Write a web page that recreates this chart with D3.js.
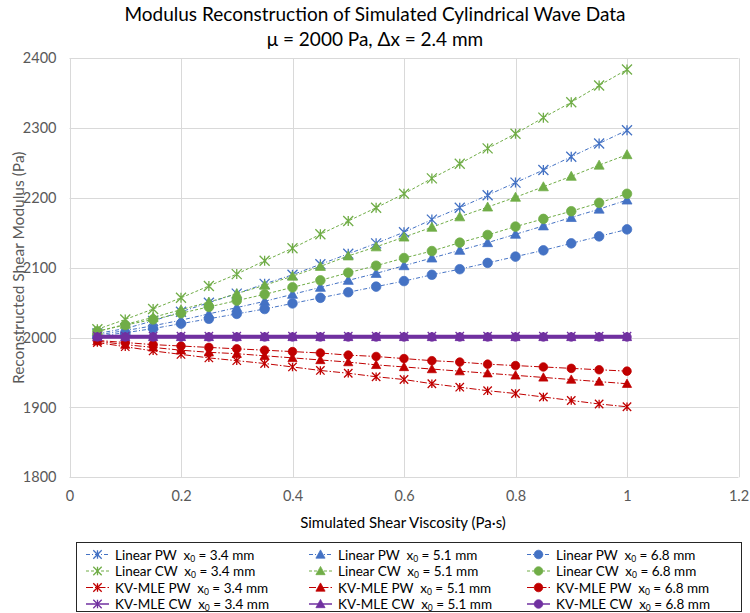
<!DOCTYPE html>
<html>
<head>
<meta charset="utf-8">
<script src="https://cdn.jsdelivr.net/npm/d3@7"></script>
<style>
  html, body { margin: 0; padding: 0; background: #fff; }
  svg { display: block; font-family: Lato, "Liberation Sans", sans-serif; }
</style>
</head>
<body>
<svg id="chart" width="750" height="613"></svg>
<script>
// ---------------- data ----------------
const viscosity = [0.05, 0.10, 0.15, 0.20, 0.25, 0.30, 0.35, 0.40, 0.45, 0.50,
                   0.55, 0.60, 0.65, 0.70, 0.75, 0.80, 0.85, 0.90, 0.95, 1.00];

const linearPW34 = [2006, 2013, 2024, 2037, 2050, 2063, 2077, 2090, 2105, 2120,
                    2135, 2151, 2169, 2186, 2204, 2222, 2240, 2259, 2278, 2297];
const linearPW51 = [2004, 2010, 2017, 2025, 2034, 2043, 2052, 2062, 2072, 2082,
                    2092, 2103, 2114, 2125, 2136, 2148, 2160, 2172, 2184, 2197];
const linearPW68 = [2002, 2007, 2013, 2020, 2027, 2034, 2041, 2049, 2057, 2065,
                    2073, 2081, 2090, 2098, 2107, 2116, 2125, 2135, 2145, 2155];
const linearCW34 = [2012, 2026, 2041, 2057, 2074, 2091, 2110, 2128, 2148, 2167,
                    2186, 2206, 2228, 2249, 2271, 2292, 2315, 2337, 2361, 2384];
const linearCW51 = [2009, 2019, 2029, 2040, 2051, 2063, 2075, 2088, 2102, 2117,
                    2130, 2144, 2158, 2173, 2187, 2201, 2216, 2231, 2247, 2262];
const linearCW68 = [2009, 2018, 2026, 2035, 2044, 2053, 2062, 2072, 2082, 2093,
                    2103, 2114, 2124, 2136, 2147, 2159, 2170, 2181, 2193, 2206];
const kvPW34 = [1993, 1987, 1981, 1976, 1971, 1967, 1963, 1958, 1953, 1949,
                1944, 1940, 1934, 1929, 1924, 1920, 1915, 1910, 1905, 1901];
const kvPW51 = [1995, 1990, 1986, 1982, 1979, 1977, 1974, 1971, 1968, 1965,
                1961, 1958, 1955, 1952, 1949, 1946, 1943, 1940, 1937, 1934];
const kvPW68 = [1996, 1993, 1990, 1988, 1986, 1984, 1982, 1980, 1978, 1975,
                1973, 1970, 1967, 1965, 1962, 1960, 1958, 1956, 1954, 1952];
const kvCW34 = [2002, 2002, 2002, 2002, 2002, 2002, 2002, 2002, 2002, 2002,
                2002, 2002, 2002, 2002, 2002, 2002, 2002, 2002, 2002, 2002];
const kvCW51 = [2001, 2001, 2001, 2001, 2001, 2001, 2001, 2001, 2001, 2001,
                2001, 2001, 2001, 2001, 2001, 2001, 2001, 2001, 2001, 2001];
const kvCW68 = [2001, 2001, 2001, 2001, 2001, 2001, 2001, 2001, 2001, 2001,
                2001, 2001, 2001, 2001, 2001, 2001, 2001, 2001, 2001, 2001];

const xTicks = [0, 0.2, 0.4, 0.6, 0.8, 1, 1.2];
const yTicks = [1800, 1900, 2000, 2100, 2200, 2300, 2400];
const methods = ["Linear PW", "Linear CW", "KV-MLE PW", "KV-MLE CW"];
const distances = ["3.4", "5.1", "6.8"];

const titleLine1 = "Modulus Reconstruction of Simulated Cylindrical Wave Data";
const titleLine2 = "\u03bc = 2000 Pa, \u0394x = 2.4 mm";
const xTitle = "Simulated Shear Viscosity (Pa\u00b7s)";
const yTitle = "Reconstructed Shear Modulus (Pa)";

// ---------------- styles ----------------
const methodStyle = {
  "Linear PW": { color: "#4472C4", dash: "4,2,1,2", width: 1, big: true },
  "Linear CW": { color: "#70AD47", dash: "3,2", width: 1, big: true },
  "KV-MLE PW": { color: "#C00000", dash: "7,2,1.5,2", width: 1, big: false },
  "KV-MLE CW": { color: "#7030A0", dash: null, width: 3, big: false }
};
const distMarker = { "3.4": "star", "5.1": "triangle", "6.8": "circle" };

const valueTable = {
  "Linear PW": [linearPW34, linearPW51, linearPW68],
  "Linear CW": [linearCW34, linearCW51, linearCW68],
  "KV-MLE PW": [kvPW34, kvPW51, kvPW68],
  "KV-MLE CW": [kvCW34, kvCW51, kvCW68]
};

// series in Excel order (row-major over legend)
const series = [];
methods.forEach(m => distances.forEach((d, i) => {
  series.push({ method: m, dist: d, values: valueTable[m][i],
                marker: distMarker[d], ...methodStyle[m] });
}));

// ---------------- layout ----------------
const svg = d3.select("#chart");
const x = d3.scaleLinear().domain([0, 1.2]).range([69.5, 738.5]);
const y = d3.scaleLinear().domain([1800, 2400]).range([477.3, 58.3]);

// gridlines
const grid = svg.append("g");
grid.selectAll("line.h").data(yTicks).join("line")
  .attr("x1", x(0)).attr("x2", x(1.2))
  .attr("y1", d => Math.round(y(d)) + 0.5).attr("y2", d => Math.round(y(d)) + 0.5)
  .attr("stroke", "#d9d9d9").attr("stroke-width", 1);
grid.selectAll("line.v").data(xTicks).join("line")
  .attr("y1", y(2400)).attr("y2", y(1800))
  .attr("x1", d => Math.round(x(d)) + 0.5).attr("x2", d => Math.round(x(d)) + 0.5)
  .attr("stroke", "#d9d9d9").attr("stroke-width", 1);

// axes (labels only)
const xAxis = d3.axisBottom(x).tickValues(xTicks).tickSize(0).tickPadding(0)
  .tickFormat(d => d3.format("~g")(d));
const gx = svg.append("g").attr("transform", `translate(0,${y(1800) + 12})`).call(xAxis);
gx.select(".domain").remove();
gx.selectAll("text").attr("font-size", 14.5).attr("fill", "#595959")
  .attr("font-family", "Lato, sans-serif").attr("dy", "0.8em");

const yAxis = d3.axisLeft(y).tickValues(yTicks).tickSize(0).tickPadding(0)
  .tickFormat(d3.format("d"));
const gy = svg.append("g").attr("transform", `translate(${x(0) - 13},0)`).call(yAxis);
gy.select(".domain").remove();
gy.selectAll("text").attr("font-size", 14.5).attr("fill", "#595959")
  .attr("font-family", "Lato, sans-serif");

// titles
svg.append("text").attr("x", 375).attr("y", 21).attr("text-anchor", "middle")
  .attr("font-size", 19).attr("fill", "#000").text(titleLine1);
svg.append("text").attr("x", 375).attr("y", 46).attr("text-anchor", "middle")
  .attr("font-size", 19).attr("fill", "#000").text(titleLine2);
svg.append("text").attr("x", 403).attr("y", 528).attr("text-anchor", "middle")
  .attr("font-size", 15).attr("fill", "#000").text(xTitle);
svg.append("text").attr("transform", `translate(24,${(y(2400) + y(1800)) / 2}) rotate(-90)`)
  .attr("text-anchor", "middle").attr("font-size", 15.5).attr("fill", "#595959").text(yTitle);

// marker drawing
function drawMarker(g, type, color, big) {
  if (type === "star") {
    const r = big ? 5 : 4.2;
    const p = `M${-r},${-r}L${r},${r}M${-r},${r}L${r},${-r}M0,${-r}L0,${r}`;
    g.append("path").attr("d", p).attr("stroke", color)
      .attr("stroke-width", 1.3).attr("fill", "none");
  } else if (type === "triangle") {
    const s = big ? 5 : 4.6;
    g.append("path").attr("d", `M0,${-s}L${s},${s * 0.8}L${-s},${s * 0.8}Z`)
      .attr("fill", color).attr("stroke", color).attr("stroke-width", 0.75);
  } else {
    g.append("circle").attr("r", big ? 4.8 : 4.3).attr("fill", color)
      .attr("stroke", color).attr("stroke-width", 0.75);
  }
}

// plot series
const line = d3.line().x(d => x(d[0])).y(d => y(d[1]));
const plot = svg.append("g");
series.forEach(s => {
  const pts = viscosity.map((v, i) => [v, s.values[i]]);
  const g = plot.append("g");
  g.append("path").datum(pts).attr("d", line).attr("fill", "none")
    .attr("stroke", s.color).attr("stroke-width", s.width)
    .attr("stroke-dasharray", s.dash);
  g.selectAll("g.m").data(pts).join("g")
    .attr("transform", d => `translate(${x(d[0])},${y(d[1])})`)
    .each(function () { drawMarker(d3.select(this), s.marker, s.color, s.big); });
});

// legend
const legend = svg.append("g");
legend.append("rect").attr("x", 76.5).attr("y", 542.5).attr("width", 665).attr("height", 69)
  .attr("fill", "#fff").attr("stroke", "#262626").attr("stroke-width", 1);
const colX = [86, 309, 527];
const rowY = [554.5, 571, 587.5, 604];
series.forEach(s => {
  const col = distances.indexOf(s.dist);
  const row = methods.indexOf(s.method);
  const gx0 = colX[col], gy0 = rowY[row];
  const g = legend.append("g");
  g.append("line").attr("x1", gx0).attr("x2", gx0 + 23).attr("y1", gy0).attr("y2", gy0)
    .attr("stroke", s.color).attr("stroke-width", s.width === 3 ? 1.5 : 1)
    .attr("stroke-dasharray", s.dash);
  const mg = g.append("g").attr("transform", `translate(${gx0 + 11.5},${gy0})`);
  drawMarker(mg, s.marker, s.color, false);
  const t = g.append("text").attr("x", gx0 + 29).attr("y", gy0 + 5)
    .attr("font-size", 13.5).attr("fill", "#000").style("white-space", "pre");
  t.append("tspan").text(s.method + "  x");
  t.append("tspan").attr("font-size", 8.5).attr("dy", 2).text("0");
  t.append("tspan").attr("dy", -2).text(" = " + s.dist + " mm");
});
</script>
</body>
</html>
